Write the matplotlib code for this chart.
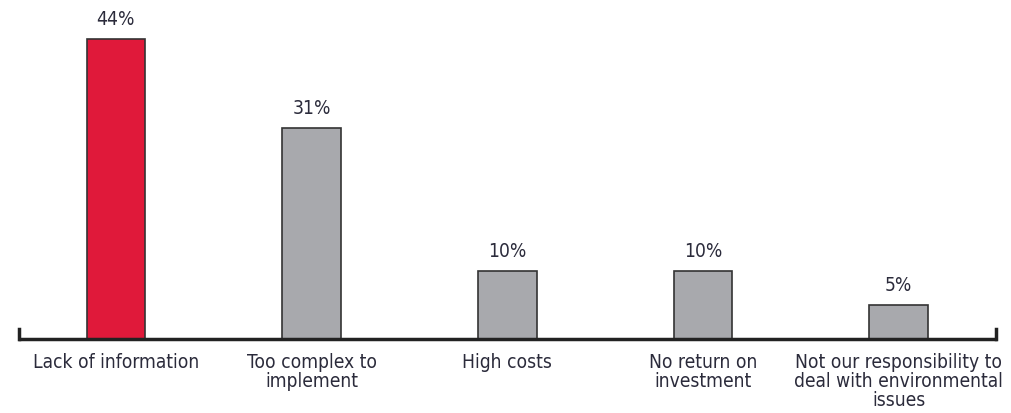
import matplotlib.pyplot as plt

categories = [
    "Lack of information",
    "Too complex to\nimplement",
    "High costs",
    "No return on\ninvestment",
    "Not our responsibility to\ndeal with environmental\nissues",
]
values = [44, 31, 10, 10, 5]
value_labels = ["44%", "31%", "10%", "10%", "5%"]
bar_colors = ["#E0193A", "#A8A9AD", "#A8A9AD", "#A8A9AD", "#A8A9AD"]

plt.rcParams["font.family"] = ["DejaVu Sans"]
plt.rcParams["font.stretch"] = "condensed"
text_color = "#2b2b3b"

fig = plt.figure(figsize=(10.12, 4.14), dpi=100)
ax = fig.add_axes([0.0178, 0.179, 0.967, 0.821])

x = list(range(len(categories)))
ax.bar(x, values, width=0.30, color=bar_colors, edgecolor="#333333", linewidth=1.2, zorder=2)

for xi, v, lab in zip(x, values, value_labels):
    ax.text(xi, v + 1.6, lab, ha="center", va="bottom", fontsize=13.8, color=text_color)

for xi, cat in zip(x, categories):
    ax.text(xi, -1.9, cat, ha="center", va="top", fontsize=13.8, color=text_color,
            linespacing=1.02)

ax.set_xlim(-0.5, len(categories) - 0.5)
ax.set_ylim(0, 49.9)

# baseline with small end ticks
ax.plot([-0.5, len(categories) - 0.5], [0, 0], color="#222222", lw=2.5,
        solid_capstyle="butt", zorder=3, clip_on=False)
for xe in (-0.497, len(categories) - 0.503):
    ax.plot([xe, xe], [0, 1.5], color="#222222", lw=2.5, zorder=3, clip_on=False)

ax.axis("off")
fig.savefig("out.png", dpi=100)
